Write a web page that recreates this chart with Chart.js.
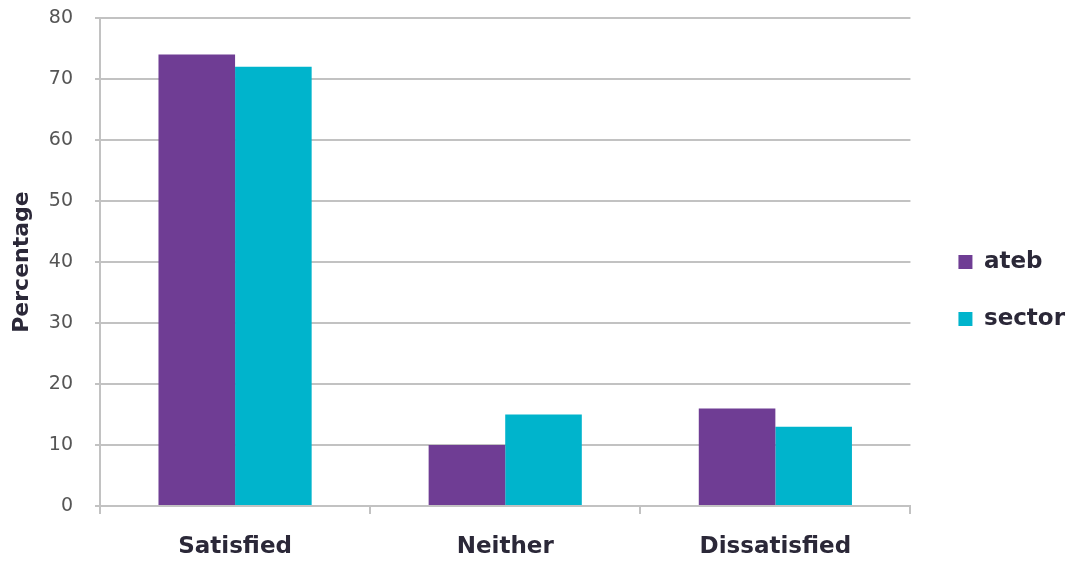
<!DOCTYPE html>
<html>
<head>
<meta charset="utf-8">
<script src="https://cdn.jsdelivr.net/npm/chart.js@4/dist/chart.umd.min.js"></script>
<style>
  html, body { margin: 0; padding: 0; background: #fff; }
  #wrap { width: 1066px; height: 563px; }
</style>
</head>
<body>
<div id="wrap"><canvas id="satChart"></canvas></div>
<script>
const categories = ['Satisfied', 'Neither', 'Dissatisfied'];
const atebValues = [74, 10, 16];
const sectorValues = [72, 15, 13];
const yTicks = [0, 10, 20, 30, 40, 50, 60, 70, 80];

const gridGrey = '#c2c2c2';
const labelInk = '#2b2838';
const fontFace = "'DejaVu Sans', sans-serif";

// push the legend a little further from the plot than Chart.js would
const legendNudge = {
  id: 'legendNudge',
  afterLayout(chart) {
    const lg = chart.legend;
    if (lg) { lg.left += 14; lg.right += 14; }
  }
};

const ctx = document.getElementById('satChart').getContext('2d');

new Chart(ctx, {
  type: 'bar',
  data: {
    labels: categories,
    datasets: [
      { label: 'ateb', data: atebValues, backgroundColor: '#6f3d94' },
      { label: 'sector', data: sectorValues, backgroundColor: '#00b4cc' }
    ]
  },
  plugins: [legendNudge],
  options: {
    responsive: true,
    maintainAspectRatio: false,
    animation: false,
    layout: { padding: { top: 18, right: 5, bottom: 0, left: 0 } },
    datasets: {
      bar: { categoryPercentage: 0.567, barPercentage: 1.0 }
    },
    plugins: {
      tooltip: { enabled: false },
      legend: {
        position: 'right',
        align: 'center',
        labels: {
          boxWidth: 14,
          boxHeight: 14,
          padding: 34,
          color: labelInk,
          font: { family: fontFace, size: 23, weight: 'bold' }
        }
      }
    },
    scales: {
      x: {
        afterFit: (scale) => { scale.height = 57; },
        grid: {
          drawOnChartArea: false,
          color: gridGrey,
          lineWidth: 2,
          tickLength: 8
        },
        border: { color: gridGrey, width: 2 },
        ticks: {
          padding: 19,
          color: labelInk,
          font: { family: fontFace, size: 23, weight: 'bold' }
        }
      },
      y: {
        min: 0,
        max: 80,
        afterFit: (scale) => {
          scale.width = 100;
          scale.paddingTop = 0;
          scale.paddingBottom = 0;
        },
        afterBuildTicks: (scale) => { scale.ticks = yTicks.map(v => ({ value: v })); },
        grid: {
          color: gridGrey,
          lineWidth: 2,
          tickLength: 5
        },
        border: { color: gridGrey, width: 2 },
        title: {
          display: true,
          text: 'Percentage',
          color: labelInk,
          padding: { top: 9, bottom: 0 },
          font: { family: fontFace, size: 22, weight: 'bold' }
        },
        ticks: {
          padding: 22,
          color: '#555555',
          font: { family: fontFace, size: 19 }
        }
      }
    }
  }
});
</script>
</body>
</html>
